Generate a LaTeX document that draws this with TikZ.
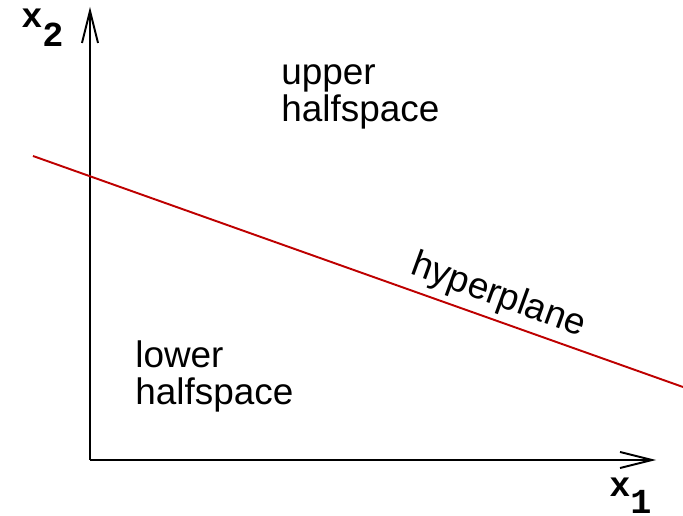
\documentclass[tikz,border=0pt]{standalone}
\usepackage{fontspec}
\setmainfont{Liberation Sans}
\setmonofont{Liberation Mono}
\usetikzlibrary{arrows.meta}

\begin{document}
\begin{tikzpicture}[x=0.02cm,y=-0.02cm,
  every node/.style={font=\fontsize{21}{21}\selectfont,inner sep=0pt},
  axis/.style={line width=1.1pt,-{Straight Barb[length=0.64cm,width=0.32cm]}},
  axislabel/.style={font=\fontsize{20}{20}\selectfont\ttfamily\bfseries,anchor=base west},
  regionlabel/.style={align=left,anchor=base west,font=\fontsize{21}{21.5}\selectfont}]
\useasboundingbox (0,0) rectangle (683,516);
\coordinate (o) at (90,460);
\coordinate (ytip) at (90,7);
\coordinate (xtip) at (656,460);
\coordinate (h0) at (33,156);
\coordinate (h1) at (683,387);
\draw[axis] (o)--(ytip);
\draw[axis] (o)--(xtip);
\draw[line width=1.1pt,color={rgb,255:red,190;green,0;blue,0}] (h0)--(h1);
\node[axislabel] (x2) at (21,28) {x\raisebox{-10.5pt}{2}};
\node[axislabel] (x1) at (609,497) {x\raisebox{-9.3pt}{1}};
\node[regionlabel] (upper) at (281,122) {upper\\halfspace};
\node[regionlabel] (lower) at (135,405) {lower\\halfspace};
\node[rotate=-20,anchor=base] (hp) at (495,305) {hyperplane};
\end{tikzpicture}
\end{document}
